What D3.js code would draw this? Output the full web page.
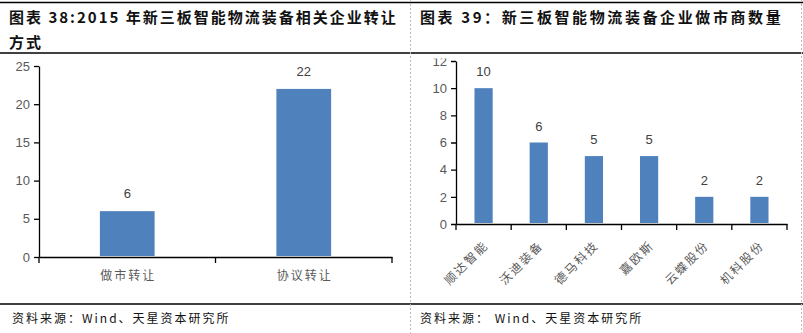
<!DOCTYPE html>
<html><head><meta charset="utf-8">
<script src="https://cdn.jsdelivr.net/npm/d3@7"></script>
<style>
body{margin:0;background:#fff;}
svg{display:block;}
</style></head>
<body>
<svg id="c" width="803" height="333"></svg>
<script>
// ---- data ----
const leftTitle1 = "图表 38:2015 年新三板智能物流装备相关企业转让";
const leftTitle2 = "方式";
const rightTitle = "图表 39：新三板智能物流装备企业做市商数量";
const sourceText = "资料来源：Wind、天星资本研究所";
const sourceTextR = "资料来源： Wind、天星资本研究所";

const leftCategories = ["做市转让", "协议转让"];
const leftValues = [6, 22];
const leftTicks = [0, 5, 10, 15, 20, 25];

const rightCategories = ["顺达智能", "沃迪装备", "德马科技", "嘉欧斯", "云蝶股份", "机科股份"];
const rightValues = [10, 6, 5, 5, 2, 2];
const rightTicks = [0, 2, 4, 6, 8, 10, 12];

// ---- drawing ----
const svg = d3.select("#c");
const barColor = "#4F81BD";
const tickColor = "#595959";
const cjk = "'Noto Sans CJK SC', sans-serif";
const latin = "'Liberation Sans', Arial, sans-serif";

// frame lines
svg.append("line").attr("x1",0).attr("x2",803).attr("y1",2.5).attr("y2",2.5).attr("stroke","#000").attr("stroke-width",1.5);
svg.append("line").attr("x1",0).attr("x2",803).attr("y1",53).attr("y2",53).attr("stroke","#000").attr("stroke-width",1.5);
svg.append("line").attr("x1",0).attr("x2",803).attr("y1",304).attr("y2",304).attr("stroke","#000").attr("stroke-width",1.5);
svg.append("line").attr("x1",410.5).attr("x2",410.5).attr("y1",0).attr("y2",333).attr("stroke","#bbb").attr("stroke-dasharray","2,2");
svg.append("line").attr("x1",801.5).attr("x2",801.5).attr("y1",0).attr("y2",333).attr("stroke","#bbb").attr("stroke-dasharray","2,2");

// titles
const tStyle = s => s.attr("font-family", cjk).attr("font-weight","bold").attr("font-size","15px").attr("fill","#111");
tStyle(svg.append("text").attr("x",9).attr("y",23).attr("letter-spacing","2px").text(leftTitle1));
tStyle(svg.append("text").attr("x",9).attr("y",48).attr("letter-spacing","2px").text(leftTitle2));
tStyle(svg.append("text").attr("x",420).attr("y",23).attr("letter-spacing","2.6px").text(rightTitle));

// sources
svg.append("text").attr("x",12).attr("y",323).attr("font-family",cjk).attr("font-size","12px").attr("letter-spacing","2px").attr("fill","#111").text(sourceText);
svg.append("text").attr("x",420).attr("y",323).attr("font-family",cjk).attr("font-size","12px").attr("letter-spacing","2px").attr("fill","#111").text(sourceTextR);

function styleAxis(g){
  g.selectAll("path,line").attr("stroke","#000").attr("stroke-width",1.3);
  g.selectAll("text").attr("fill",tickColor).attr("font-family",latin).attr("font-size","13px");
}

// ---- left chart ----
{
  const x = d3.scaleBand().domain(leftCategories).range([39, 392]).padding(0);
  const y = d3.scaleLinear().domain([0, 25]).range([257, 66]);
  const g = svg.append("g");
  const bw = x.bandwidth() * 0.31;
  g.selectAll("rect").data(leftValues).join("rect")
    .attr("x",(d,i)=>x(leftCategories[i]) + x.bandwidth()/2 - bw/2)
    .attr("width",bw)
    .attr("y",d=>y(d))
    .attr("height",d=>y(0)-y(d)-1)
    .attr("fill",barColor);
  g.selectAll(".vl").data(leftValues).join("text").attr("class","vl")
    .attr("x",(d,i)=>x(leftCategories[i]) + x.bandwidth()/2)
    .attr("y",d=>y(d)-13)
    .attr("text-anchor","middle").attr("font-family",latin).attr("font-size","13px").attr("fill","#404040")
    .text(d=>d);
  const ya = g.append("g").attr("transform","translate(39,0)")
    .call(d3.axisLeft(y).tickValues(leftTicks).tickSize(5).tickSizeOuter(0).tickPadding(4));
  styleAxis(ya);
  const xa = g.append("g").attr("transform",`translate(0,${y(0)})`)
    .call(d3.axisBottom(x).tickSize(0).tickSizeOuter(0).tickFormat(""));
  styleAxis(xa);
  const bnd = [...leftCategories.map(c=>x(c)), x.range()[1]];
  g.selectAll(".xt").data(bnd).join("line").attr("class","xt")
    .attr("x1",d=>d).attr("x2",d=>d).attr("y1",y(0)).attr("y2",y(0)+6).attr("stroke","#000").attr("stroke-width",1.3);
  g.selectAll(".cl").data(leftCategories).join("text").attr("class","cl")
    .attr("x",d=>x(d)+x.bandwidth()/2+1).attr("y",y(0)+23)
    .attr("text-anchor","middle").attr("font-family",cjk).attr("font-size","12px").attr("letter-spacing","2px")
    .attr("fill",tickColor).text(d=>d);
}

// ---- right chart ----
{
  svg.append("clipPath").attr("id","rc").append("rect").attr("x",411).attr("y",58.5).attr("width",390).attr("height",245);
  const x = d3.scaleBand().domain(rightCategories).range([456, 787]).padding(0);
  const y = d3.scaleLinear().domain([0, 12]).range([224, 61]);
  const g = svg.append("g").attr("clip-path","url(#rc)");
  const bw = x.bandwidth() * 0.33;
  g.selectAll("rect").data(rightValues).join("rect")
    .attr("x",(d,i)=>x(rightCategories[i]) + x.bandwidth()/2 - bw/2)
    .attr("width",bw)
    .attr("y",d=>y(d))
    .attr("height",d=>y(0)-y(d)-1)
    .attr("fill",barColor);
  g.selectAll(".vl").data(rightValues).join("text").attr("class","vl")
    .attr("x",(d,i)=>x(rightCategories[i]) + x.bandwidth()/2)
    .attr("y",d=>y(d)-12)
    .attr("text-anchor","middle").attr("font-family",latin).attr("font-size","13px").attr("fill","#404040")
    .text(d=>d);
  const ya = g.append("g").attr("transform","translate(456,0)")
    .call(d3.axisLeft(y).tickValues(rightTicks).tickSize(5).tickSizeOuter(0).tickPadding(4));
  styleAxis(ya);
  const xa = g.append("g").attr("transform",`translate(0,${y(0)})`)
    .call(d3.axisBottom(x).tickSize(0).tickSizeOuter(0).tickFormat(""));
  styleAxis(xa);
  const bnd = [...rightCategories.map(c=>x(c)), x.range()[1]];
  g.selectAll(".xt").data(bnd).join("line").attr("class","xt")
    .attr("x1",d=>d).attr("x2",d=>d).attr("y1",y(0)).attr("y2",y(0)+6).attr("stroke","#000").attr("stroke-width",1.3);
  g.selectAll(".cl").data(rightCategories).join("text").attr("class","cl")
    .attr("transform",d=>`translate(${x(d)+x.bandwidth()/2+5.5},${y(0)+22}) rotate(-45)`)
    .attr("text-anchor","end").attr("font-family",cjk).attr("font-size","12px").attr("letter-spacing","2px")
    .attr("fill",tickColor).text(d=>d);
}
</script>
</body></html>
